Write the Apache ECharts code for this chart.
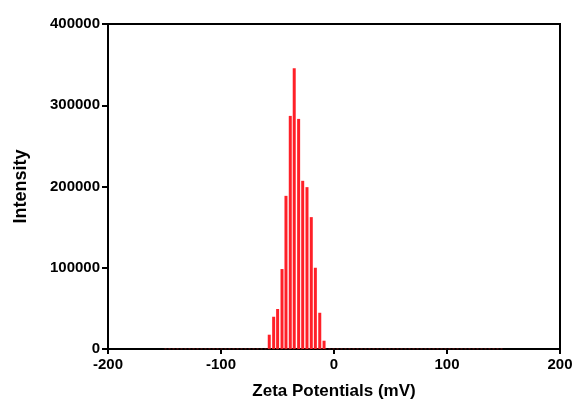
<!DOCTYPE html>
<html>
<head>
<meta charset="utf-8">
<script src="https://cdn.jsdelivr.net/npm/echarts@6/dist/echarts.min.js"></script>
<style>
    html, body { margin: 0; padding: 0; background: #fff; }
    #chart { width: 573px; height: 401px; }
</style>
</head>
<body>
<div id="chart"></div>
<script type="text/javascript">
    // zeta potential bins (mV) and intensity
    var zeta = [-57.3, -53.4, -49.9, -46.0, -42.5, -38.7, -35.2, -31.3, -27.7, -23.9, -20.1, -16.5, -12.6, -8.8];
    var intensity = [17600, 39700, 49200, 98400, 188500, 286900, 345500, 283200, 207000, 199200, 162300, 100000, 44600, 10200];
    // flat zero part of the distribution, drawn as a dotted line on the axis
    var zeroRange = [-150, 150];
    var xTicks = [-200, 200, 100];    // min, max, interval
    var yTicks = [0, 400000, 100000];

    var barData = [];
    for (var i = 0; i < zeta.length; i++) {
        barData.push([zeta[i], intensity[i]]);
    }
    var zeroData = [[zeroRange[0], 0], [zeroRange[1], 0]];

    var font = 'Liberation Sans, Arial, sans-serif';
    var chart = echarts.init(document.getElementById('chart'));
    var option = {
        animation: false,
        grid: {
            left: 108, right: 13, top: 24, bottom: 52,
            outerBoundsMode: 'none',
            show: true, borderColor: '#000', borderWidth: 2, backgroundColor: 'transparent'
        },
        xAxis: {
            type: 'value',
            min: xTicks[0], max: xTicks[1], interval: xTicks[2],
            name: 'Zeta Potentials (mV)',
            nameLocation: 'middle',
            nameGap: 34,
            nameTextStyle: { fontFamily: font, fontWeight: 'bold', fontSize: 17, color: '#000' },
            axisLine: { onZero: false, lineStyle: { color: '#000', width: 2 } },
            axisTick: { length: 5, lineStyle: { color: '#000', width: 2 } },
            axisLabel: { fontFamily: font, fontWeight: 'bold', fontSize: 15, color: '#000', margin: 8 },
            splitLine: { show: false }
        },
        yAxis: {
            type: 'value',
            min: yTicks[0], max: yTicks[1], interval: yTicks[2],
            name: 'Intensity',
            nameLocation: 'middle',
            nameGap: 78,
            nameTextStyle: { fontFamily: font, fontWeight: 'bold', fontSize: 18, color: '#000' },
            axisLine: { show: true, onZero: false, lineStyle: { color: '#000', width: 2 } },
            axisTick: { show: true, length: 6, lineStyle: { color: '#000', width: 2 } },
            axisLabel: {
                fontFamily: font, fontWeight: 'bold', fontSize: 15, color: '#000', margin: 8,
                formatter: function (v) { return String(v); }
            },
            splitLine: { show: false }
        },
        series: [
            {
                name: 'Intensity',
                type: 'bar',
                data: barData,
                barWidth: 3,
                itemStyle: { color: '#ff2028' },
                z: 3
            },
            {
                name: 'zero',
                type: 'line',
                data: zeroData,
                symbol: 'none',
                lineStyle: { color: '#8b1a1a', width: 1, type: [2, 2] },
                z: 4
            }
        ]
    };
    chart.setOption(option);
</script>
</body>
</html>
